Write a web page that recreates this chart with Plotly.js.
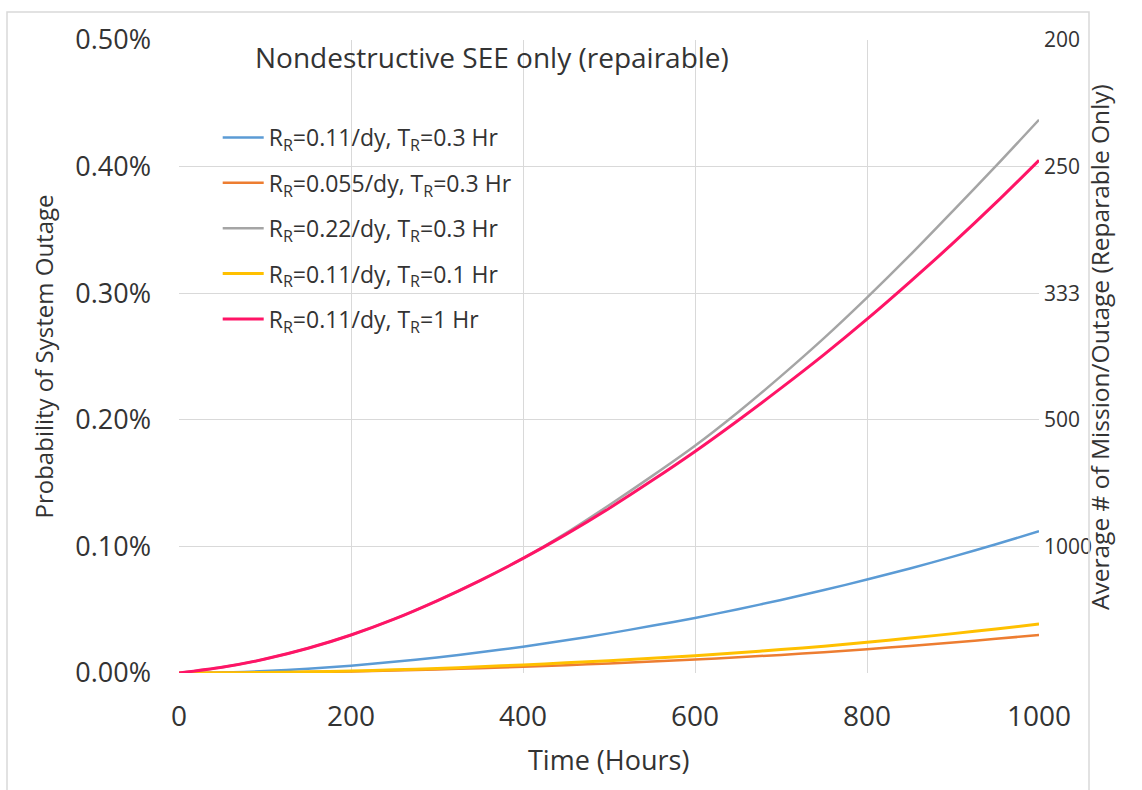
<!DOCTYPE html>
<html>
<head>
<meta charset="utf-8">
<script src="https://cdn.plot.ly/plotly-3.0.1.min.js"></script>
<style>html,body{margin:0;padding:0;background:#fff;}#chart{width:1142px;height:790px;}</style>
</head>
<body>
<div id="chart"></div>
<script>
// Time in hours
const timeHours = [0, 50, 100, 150, 200, 250, 300, 350, 400, 450, 500, 550, 600, 650, 700, 750, 800, 850, 900, 950, 1000];
const seriesNames = [
  "R<sub>R</sub>=0.11/dy, T<sub>R</sub>=0.3 Hr",
  "R<sub>R</sub>=0.055/dy, T<sub>R</sub>=0.3 Hr",
  "R<sub>R</sub>=0.22/dy, T<sub>R</sub>=0.3 Hr",
  "R<sub>R</sub>=0.11/dy, T<sub>R</sub>=0.1 Hr",
  "R<sub>R</sub>=0.11/dy, T<sub>R</sub>=1 Hr"
];
// Probability of system outage, in percent
const rr011_tr03  = [0, 0.0004, 0.0015, 0.0033, 0.0058, 0.0088, 0.0123, 0.0163, 0.0208, 0.0258, 0.0313, 0.0373, 0.0435, 0.0504, 0.0577, 0.0655, 0.0738, 0.0826, 0.0919, 0.1017, 0.112];
const rr0055_tr03 = [0, 0.0001, 0.0003, 0.0007, 0.0012, 0.0019, 0.0028, 0.0038, 0.0050, 0.0062, 0.0075, 0.0090, 0.0106, 0.0124, 0.0143, 0.0164, 0.0188, 0.0214, 0.0241, 0.0270, 0.0300];
const rr022_tr03  = [0, 0.0045, 0.011, 0.0195, 0.030, 0.0425, 0.057, 0.073, 0.0905, 0.1105, 0.1325, 0.1555, 0.1795, 0.206, 0.2345, 0.2645, 0.2965, 0.330, 0.365, 0.4005, 0.437];
const rr011_tr01  = [0, 0.0001, 0.0004, 0.0009, 0.0016, 0.0025, 0.0036, 0.0049, 0.0064, 0.0080, 0.0097, 0.0116, 0.0137, 0.0160, 0.0185, 0.0212, 0.0243, 0.0276, 0.0311, 0.0348, 0.0387];
const rr011_tr1   = [0, 0.0045, 0.011, 0.0195, 0.030, 0.0425, 0.057, 0.073, 0.0905, 0.1095, 0.130, 0.152, 0.175, 0.1995, 0.225, 0.2515, 0.2795, 0.309, 0.3395, 0.3715, 0.405];

const leftTickVals = [0, 0.1, 0.2, 0.3, 0.4, 0.5];
const leftTickText = ["0.00%", "0.10%", "0.20%", "0.30%", "0.40%", "0.50%"];
const rightTickVals = [0.1, 0.2, 0.3, 0.4, 0.5];
const rightTickText = ["1000", "500", "333", "250", "200"];
const xTickVals = [0, 200, 400, 600, 800, 1000];

const colors = ["#5b9bd5", "#ed7d31", "#a5a5a5", "#ffc000", "#ff1466"];
const widths = [2.5, 2.5, 2.5, 3, 3];
const seriesData = [rr011_tr03, rr0055_tr03, rr022_tr03, rr011_tr01, rr011_tr1];

const FONT = "Open Sans, Lato, sans-serif";
const TXT = "#333333";

const traces = seriesData.map((ys, i) => ({
  x: timeHours, y: ys, type: "scatter", mode: "lines",
  name: seriesNames[i], legendgroup: "g" + i,
  line: {color: colors[i], width: widths[i], shape: "spline", smoothing: 0.8},
  hoverinfo: "skip"
}));
// invisible trace to attach the right axis
traces.push({x: timeHours, y: rr011_tr1, yaxis: "y2", type: "scatter", mode: "lines",
  line: {color: "rgba(0,0,0,0)"}, showlegend: false, hoverinfo: "skip"});

const layout = {
  width: 1142, height: 790,
  margin: {l: 179, r: 103, t: 40, b: 117},
  paper_bgcolor: "#ffffff", plot_bgcolor: "#ffffff",
  font: {family: FONT, color: TXT},
  showlegend: true,
  legend: {
    x: 0.045, y: 0.88, xanchor: "left", yanchor: "top",
    font: {family: FONT, size: 23, color: TXT},
    tracegroupgap: 12.5, bgcolor: "rgba(255,255,255,0)", itemwidth: 41
  },
  xaxis: {
    range: [0, 1000], tickvals: xTickVals, ticks: "",
    showgrid: true, gridcolor: "#d9d9d9", gridwidth: 1,
    zeroline: false, showline: false,
    tickfont: {family: FONT, size: 28, color: TXT}, ticklabelstandoff: 24
  },
  yaxis: {
    range: [0, 0.5], tickvals: leftTickVals, ticktext: leftTickText, ticks: "",
    showgrid: true, gridcolor: "#d9d9d9", gridwidth: 1,
    zeroline: false, showline: false,
    tickfont: {family: FONT, size: 27, color: TXT}, ticklabelstandoff: 27,
    title: {text: "Probability of System Outage", font: {family: FONT, size: 24, color: TXT}, standoff: 14}
  },
  yaxis2: {
    range: [0, 0.5], overlaying: "y", side: "right",
    tickvals: rightTickVals, ticktext: rightTickText, ticks: "",
    showgrid: false, zeroline: false, showline: false,
    tickfont: {family: FONT, size: 21, color: TXT}, ticklabelstandoff: 4
  },
  annotations: [
    {text: "Nondestructive SEE only (repairable)", xref: "paper", yref: "paper",
     x: (253 - 179) / 860, y: (673 - 57) / 633, xanchor: "left", yanchor: "middle", showarrow: false,
     font: {family: FONT, size: 28, color: TXT}},
    {text: "Time (Hours)", xref: "paper", yref: "paper",
     x: (608 - 179) / 860, y: -(759 - 673) / 633, xanchor: "center", yanchor: "middle", showarrow: false,
     font: {family: FONT, size: 27, color: TXT}},
    {text: "Average # of Mission/Outage (Reparable Only)", xref: "paper", yref: "paper",
     x: (1099 - 179) / 860, y: (673 - 347) / 633, xanchor: "center", yanchor: "middle", showarrow: false,
     textangle: -90, font: {family: FONT, size: 24.5, color: TXT}}
  ],
  shapes: [
    {type: "rect", xref: "paper", yref: "paper",
     x0: (7 - 179) / 860, x1: (1089 - 179) / 860, y0: (673 - 800) / 633, y1: (673 - 12) / 633,
     line: {color: "#d9d9d9", width: 1.5}, fillcolor: "rgba(0,0,0,0)", layer: "above"}
  ]
};

Plotly.newPlot("chart", traces, layout, {displayModeBar: false, staticPlot: true});
</script>
</body>
</html>
